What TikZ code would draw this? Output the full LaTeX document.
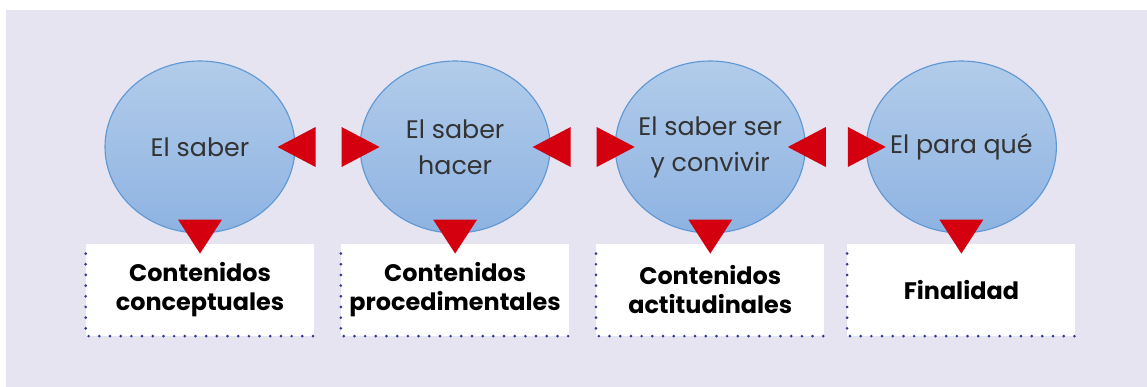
\documentclass[tikz,border=0pt]{standalone}
\usepackage{fontspec}
\setmainfont{Poppins}
\usepackage{xcolor}
\usepackage{tikz}
\usetikzlibrary{positioning,shapes.geometric}

\definecolor{fondo}{HTML}{E6E4F1}
\definecolor{cieloA}{HTML}{B2CCEA}
\definecolor{cieloB}{HTML}{8EB3E2}
\definecolor{borde}{HTML}{5E98D4}
\definecolor{rojo}{HTML}{D4000F}
\definecolor{azul}{HTML}{2E3A8E}
\definecolor{gris}{HTML}{333333}

\begin{document}
\begin{tikzpicture}[
    saber/.style={ellipse, minimum width=4.75cm, minimum height=4.3cm, inner sep=-12pt,
        draw=borde, line width=0.8pt, top color=cieloA, bottom color=cieloB,
        align=center, text=gris, font=\fontsize{18}{25.6}\selectfont},
    caja/.style={fill=white, minimum width=5.7cm, minimum height=2.3cm, align=center,
        font=\bfseries\fontsize{17}{20.6}\selectfont},
    flecha/.style={fill=rojo},
    puntos/.style={draw=azul, line width=2.1pt, line cap=round, dash pattern=on 0pt off 7.6pt}
]

			\useasboundingbox (0,0) rectangle (28.675,-9.675);
			\fill[fondo] (0.15,-0.25) rectangle (28.675,-9.675);

			% los cuatro saberes
			\node[saber] (c1) at (5,-3.675) {El saber};
			\node[saber, right=1.6cm of c1] (c2) {El saber\\hacer};
			\node[saber, right=1.6cm of c2] (c3) {El saber ser\\y convivir};
			\node[saber, right=1.5cm of c3] (c4) {El para qué};

			% contenidos
			\node[caja, below=0.25cm of c1] (b1) {Contenidos\\conceptuales};
			\node[caja, below=0.25cm of c2] (b2) {Contenidos\\procedimentales};
			\node[caja, below=0.25cm of c3] (b3) {Contenidos\\actitudinales};
			\node[caja, below=0.25cm of c4] (b4) {Finalidad};

			\foreach \i in {1,2,3,4} {
			    \draw[puntos] ([yshift=-0.25cm]b\i.north west) -- (b\i.south west) -- (b\i.south east);
			    \fill[flecha] ([yshift=-0.5cm]c\i.south) -- ++(-0.55,0.85) -- ++(1.1,0) -- cycle;
			}

			\foreach \i/\j in {1/2,2/3,3/4} {
			    \fill[flecha] ([xshift=-0.45cm]c\i.east) -- ++(0.95,0.5) -- ++(0,-1) -- cycle;
			    \fill[flecha] ([xshift=0.5cm]c\j.west) -- ++(-0.95,0.5) -- ++(0,-1) -- cycle;
			}
\end{tikzpicture}
\end{document}
